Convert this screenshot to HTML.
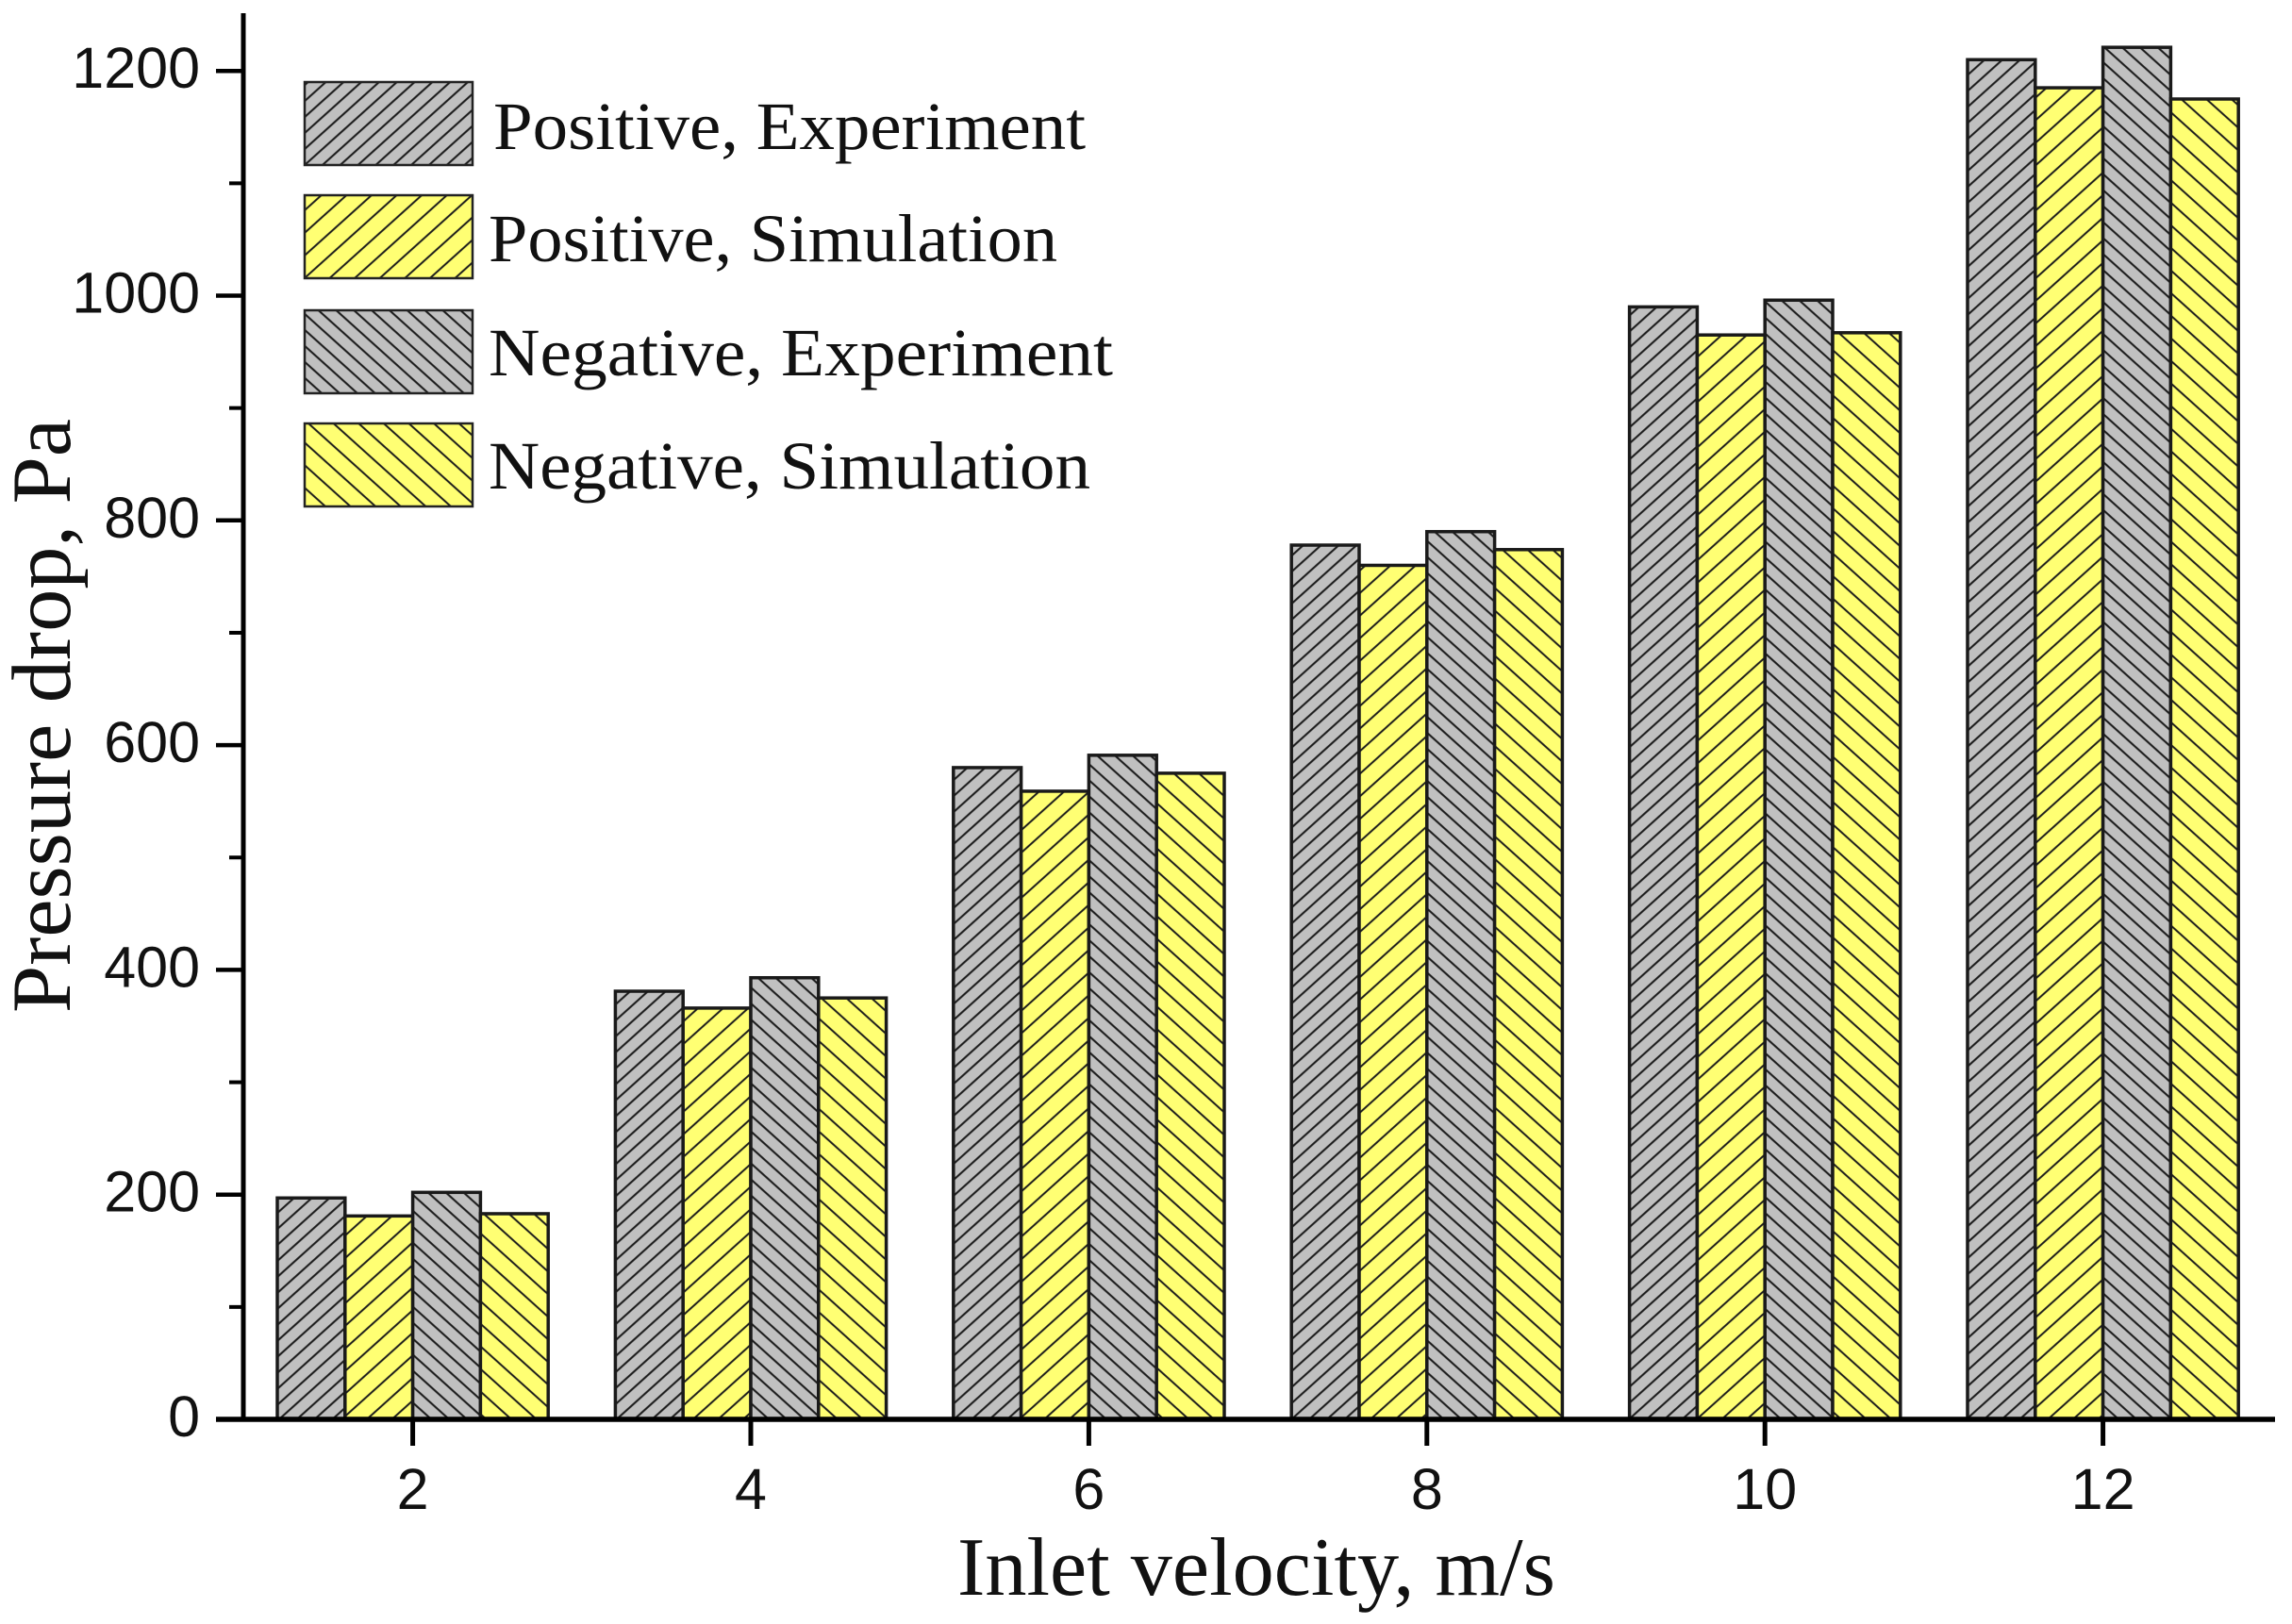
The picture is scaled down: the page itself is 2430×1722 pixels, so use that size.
<!DOCTYPE html>
<html lang="en">
<head>
<meta charset="utf-8">
<title>Pressure drop vs inlet velocity</title>
<style>
html,body{margin:0;padding:0;background:#fff;}
svg{display:block;}
.num{font-family:"Liberation Sans",Arial,sans-serif;font-size:61px;fill:#111;}
.ser{font-family:"Liberation Serif","Times New Roman",serif;fill:#111;}
</style>
</head>
<body>
<svg id="chart" xmlns="http://www.w3.org/2000/svg" width="2430" height="1722" viewBox="0 0 2430 1722">
  <defs>
    <pattern id="hatch-pe" patternUnits="userSpaceOnUse" width="40" height="12.6" patternTransform="rotate(-42)">
      <rect width="40" height="12.6" fill="#c0c0c0"/>
      <line x1="0" y1="6" x2="40" y2="6" stroke="#1a1a1a" stroke-width="2"/>
    </pattern>
    <pattern id="hatch-ps" patternUnits="userSpaceOnUse" width="40" height="17.8" patternTransform="rotate(-42)">
      <rect width="40" height="17.8" fill="#ffff73"/>
      <line x1="0" y1="8" x2="40" y2="8" stroke="#1a1a1a" stroke-width="2"/>
    </pattern>
    <pattern id="hatch-ne" patternUnits="userSpaceOnUse" width="40" height="12.6" patternTransform="rotate(42)">
      <rect width="40" height="12.6" fill="#c0c0c0"/>
      <line x1="0" y1="6" x2="40" y2="6" stroke="#1a1a1a" stroke-width="2"/>
    </pattern>
    <pattern id="hatch-ns" patternUnits="userSpaceOnUse" width="40" height="17.8" patternTransform="rotate(42)">
      <rect width="40" height="17.8" fill="#ffff73"/>
      <line x1="0" y1="8" x2="40" y2="8" stroke="#1a1a1a" stroke-width="2"/>
    </pattern>
  </defs>
  <g id="bars"></g>
  <g id="axes"></g>
  <g id="legend"></g>
  <text class="ser" x="1015" y="1691" font-size="88" textLength="634" lengthAdjust="spacingAndGlyphs">Inlet velocity, m/s</text>
  <text class="ser" transform="translate(74,1074) rotate(-90)" font-size="89" textLength="630" lengthAdjust="spacingAndGlyphs">Pressure drop, Pa</text>
</svg>
<script>
const categories = [2, 4, 6, 8, 10, 12];
const positiveExperiment = [197, 381, 580, 778, 990, 1210];
const positiveSimulation = [181, 366, 559, 760, 965, 1185];
const negativeExperiment = [202, 393, 591, 790, 996, 1221];
const negativeSimulation = [183, 375, 575, 774, 967, 1175];
const yTickLabels = [0, 200, 400, 600, 800, 1000, 1200];
const yMinorTicks = [100, 300, 500, 700, 900, 1100];
const seriesNames = ['Positive, Experiment', 'Positive, Simulation', 'Negative, Experiment', 'Negative, Simulation'];

const NS = 'http://www.w3.org/2000/svg';
const barsLayer = document.getElementById('bars');
const axesLayer = document.getElementById('axes');
const legendLayer = document.getElementById('legend');

function xScale(v) { return 437.6 + (v - 2) * 179.2; }
function yScale(v) { return 1505 - v * 1.1915; }

function make(tag, attrs, parent) {
  const el = document.createElementNS(NS, tag);
  for (const k in attrs) el.setAttribute(k, attrs[k]);
  parent.appendChild(el);
  return el;
}

const seriesList = [
  { key: 'positive-experiment', values: positiveExperiment, fill: 'url(#hatch-pe)', offset: -2 },
  { key: 'positive-simulation', values: positiveSimulation, fill: 'url(#hatch-ps)', offset: -1 },
  { key: 'negative-experiment', values: negativeExperiment, fill: 'url(#hatch-ne)', offset: 0 },
  { key: 'negative-simulation', values: negativeSimulation, fill: 'url(#hatch-ns)', offset: 1 }
];
const barWidth = 71.8;

seriesList.forEach(function (s) {
  s.values.forEach(function (v, i) {
    const x = xScale(categories[i]) + s.offset * barWidth;
    const y = yScale(v);
    const r = make('rect', { x: x, y: y, width: barWidth, height: yScale(0) - y, fill: s.fill, stroke: '#1a1a1a', 'stroke-width': 3.5 }, barsLayer);
    
    
  });
});

const yAxisLine = make('line', { x1: 258, y1: 14, x2: 258, y2: 1505, stroke: '#000', 'stroke-width': 5 }, axesLayer);


const xAxisLine = make('line', { x1: 229, y1: 1505, x2: 2412, y2: 1505, stroke: '#000', 'stroke-width': 5.5 }, axesLayer);



yTickLabels.forEach(function (v) {
  const y = yScale(v);
  const t = make('line', { x1: 229, y1: y, x2: 258, y2: y, stroke: '#000', 'stroke-width': 4.5 }, axesLayer);
  
  
  const l = make('text', { x: 212, y: y + 18, 'text-anchor': 'end', class: 'num' }, axesLayer);
  
  
  l.textContent = v;
});
yMinorTicks.forEach(function (v) {
  const y = yScale(v);
  const t = make('line', { x1: 243, y1: y, x2: 258, y2: y, stroke: '#000', 'stroke-width': 4 }, axesLayer);
  
  
});
categories.forEach(function (c) {
  const x = xScale(c);
  const t = make('line', { x1: x, y1: 1505, x2: x, y2: 1533, stroke: '#000', 'stroke-width': 5 }, axesLayer);
  
  
  const l = make('text', { x: x, y: 1600, 'text-anchor': 'middle', class: 'num' }, axesLayer);
  
  
  l.textContent = c;
});

const legendBoxY = [87, 207, 329, 449];
const legendText = [
  { x: 523, y: 158, w: 628 },
  { x: 518, y: 277, w: 603 },
  { x: 518, y: 398, w: 662 },
  { x: 518, y: 518, w: 638 }
];
seriesList.forEach(function (s, i) {
  const b = make('rect', { x: 323, y: legendBoxY[i], width: 178, height: 88, fill: s.fill, stroke: '#222', 'stroke-width': 2.5 }, legendLayer);
  
  
  const t = make('text', { x: legendText[i].x, y: legendText[i].y, class: 'ser', 'font-size': 72, textLength: legendText[i].w, lengthAdjust: 'spacingAndGlyphs' }, legendLayer);
  
  
  t.textContent = seriesNames[i];
});
</script>
</body>
</html>
